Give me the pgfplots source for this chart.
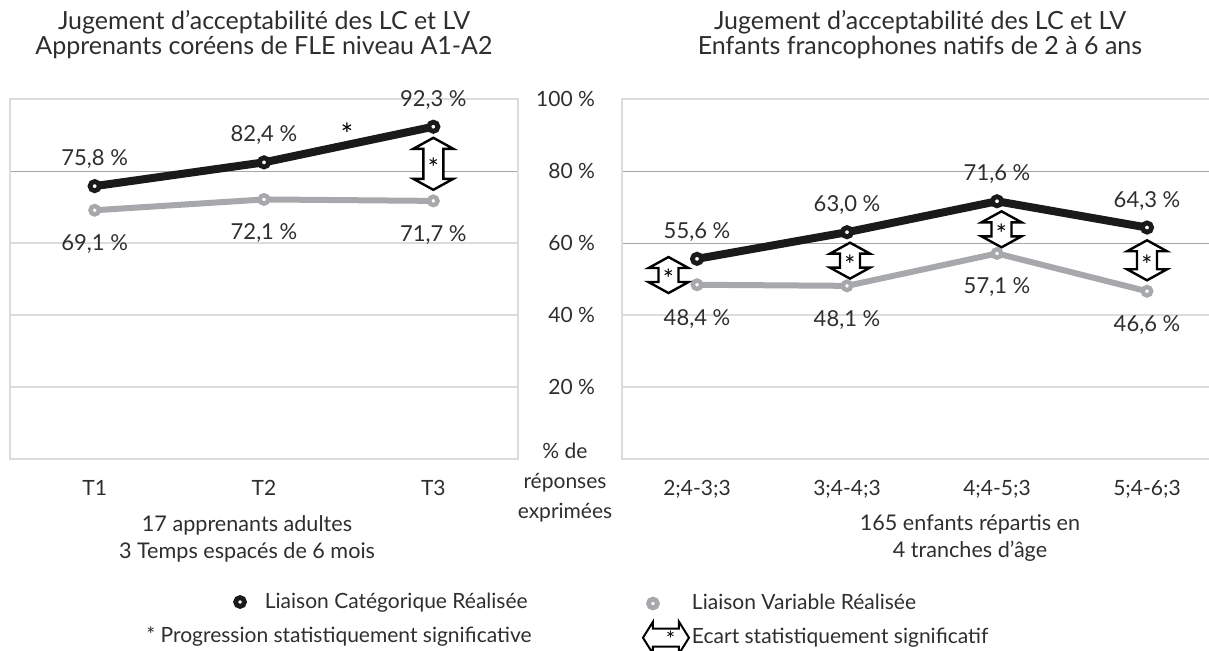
\documentclass[border=0pt]{standalone}
\usepackage{fontspec}
\setmainfont{Lato}
\usepackage{pgfplots}
\pgfplotsset{compat=1.18}

\definecolor{lcblack}{HTML}{1A1A1A}
\definecolor{lvgray}{HTML}{A6A8AB}
\definecolor{txt}{HTML}{2E2E2E}
\definecolor{gridlight}{HTML}{DCDCDC}
\definecolor{griddark}{HTML}{A6A6A6}

\newcommand{\fs}{\fontsize{10.5}{12.5}\selectfont}
\newcommand{\fl}{\fontsize{11}{12.5}\selectfont}

% significance double arrow: x, y (axis), half-length (pt)
\newcommand{\sigarrow}[3]{%
  \draw[line width=1.2pt, draw=black, fill=white, line join=miter]
    ([yshift=#3pt]axis cs:#1,#2) -- ++(10pt,-5.5pt) -- ++(-5pt,0pt)
    -- ++(0pt,{-2*#3pt+11pt}) -- ++(5pt,0pt) -- ++(-10pt,-5.5pt)
    -- ++(-10pt,5.5pt) -- ++(5pt,0pt) -- ++(0pt,{2*#3pt-11pt})
    -- ++(-5pt,0pt) -- cycle;
  \node[font=\fontsize{13}{13}\selectfont, inner sep=0pt, text=black] at ([yshift=-2pt]axis cs:#1,#2) {*};}

\pgfplotsset{
  panel/.style={
    scale only axis, height=180pt, ymin=0, ymax=100,
    axis line style={draw=gridlight, line width=1.2pt},
    major tick length=0pt,
    ymajorgrids,
    grid style={draw=griddark, line width=0.5pt},
    extra y tick style={grid style={draw=gridlight, line width=1.1pt}},
    tick label style={font=\fs, text=txt},
    xticklabel style={yshift=-7pt},
    yticklabel style={xshift=-10pt},
    clip=false,
    /pgf/number format/assume math mode=true,
    legend cell align=left,
    legend style={draw=none, fill=none, inner sep=0pt, outer sep=0pt,
      font=\fs, text=txt, nodes={inner sep=1pt}},
  },
  lcplot/.style={lcblack, line width=4pt, mark=*, mark size=2.3pt,
    mark options={fill=white, draw=lcblack, line width=2.4pt, solid},
    nodes near coords={\pgfmathprintnumber[use comma,fixed,fixed zerofill,precision=1,assume math mode=true]{\pgfplotspointmeta}~\%},
    every node near coord/.append style={anchor=south, yshift=4.2pt, font=\fl, text=txt},
    legend image code/.code={\draw[lcblack, line width=2.4pt, fill=white] (0pt,0pt) circle (2.2pt);}},
  lvplot/.style={lvgray, line width=3pt, mark=*, mark size=2.1pt,
    mark options={fill=white, draw=lvgray, line width=2.2pt, solid},
    nodes near coords={\pgfmathprintnumber[use comma,fixed,fixed zerofill,precision=1,assume math mode=true]{\pgfplotspointmeta}~\%},
    every node near coord/.append style={anchor=north, yshift=-7.8pt, font=\fl, text=txt},
    legend image code/.code={\draw[lvgray, line width=2.4pt, fill=white] (0pt,0pt) circle (2.2pt);}},
}

\begin{document}
\begin{tikzpicture}
\clip (0pt,0pt) rectangle (604.5pt,325pt);

% ---------- left panel ----------
\begin{axis}[panel, at={(5pt,95.5pt)}, anchor=south west, width=254pt,
  xmin=-0.5, xmax=2.5, xtick={0,1,2}, xticklabels={T1,T2,T3},
  ytick={80}, yticklabels={\empty},
  extra y ticks={20,40,60}, extra y tick labels={\empty,\empty,\empty},
  legend style={at={(0.4395,-0.3972)}, anchor=west,
    /tikz/every odd column/.append style={column sep=8pt}},
]
\addplot[lvplot, forget plot] coordinates {(0,69.1) (1,72.1) (2,71.7)};
\addplot[lcplot] coordinates {(0,75.8) (1,82.4) (2,92.3)};
\addlegendentry{Liaison Catégorique Réalisée}
\sigarrow{2}{82}{13}
\node[font=\fontsize{15}{15}\selectfont, text=black, inner sep=0pt] at (axis cs:1.49,90.3) {*};
\end{axis}

% ---------- right panel ----------
\begin{axis}[panel, at={(311pt,95.5pt)}, anchor=south west, width=300pt,
  xmin=-0.5, xmax=3.5, xtick={0,1,2,3},
  xticklabels={2;4-3;3, 3;4-4;3, 4;4-5;3, 5;4-6;3},
  ytick={60,80,100}, yticklabels={60~\%,80~\%,100~\%},
  extra y ticks={20,40}, extra y tick labels={20~\%,40~\%},
  legend style={at={(0.0333,-0.4569)}, anchor=west,
    /tikz/every odd column/.append style={column sep=0pt},
    row sep=3pt},
]
\addplot[lcplot, forget plot] coordinates {(0,55.6) (1,63.0) (2,71.6) (3,64.3)};
\addplot[lvplot] coordinates {(0,48.4) (1,48.1) (2,57.1) (3,46.6)};
\addlegendentry{Liaison Variable Réalisée}
\addlegendimage{legend image code/.code={%
  \draw[line width=1pt, draw=black, fill=white, line join=miter] (-5pt,0pt) -- ++(5pt,8pt) -- ++(0pt,-3.5pt) -- ++(13pt,0pt) -- ++(0pt,3.5pt) -- ++(5pt,-8pt) -- ++(-5pt,-8pt) -- ++(0pt,3.5pt) -- ++(-13pt,0pt) -- ++(0pt,-3.5pt) -- cycle;
  \node[inner sep=0pt, font=\fontsize{11}{11}\selectfont, text=black] at (6.5pt,-1.6pt) {*};}}
\addlegendentry{Ecart statistiquement significatif}
\sigarrow{-0.19}{51.1}{9}
\sigarrow{1.02}{55.1}{9}
\sigarrow{2.03}{63.8}{9}
\sigarrow{3.0}{55.2}{10}
\end{axis}

% ---------- texts ----------
\node[align=center, font=\fontsize{12.5}{12.5}\selectfont, text=txt] at (132pt,307.75pt)
  {Jugement d’acceptabilité des LC et LV\\Apprenants coréens de FLE niveau A1-A2};
\node[align=center, font=\fontsize{12.5}{12.5}\selectfont, text=txt] at (460pt,307.75pt)
  {Jugement d’acceptabilité des LC et LV\\Enfants francophones natifs de 2 à 6 ans};
\node[align=center, font=\fontsize{10.8}{13.5}\selectfont, text=txt] at (123.5pt,55.75pt)
  {17 apprenants adultes\\3 Temps espacés de 6 mois};
\node[align=center, font=\fontsize{10.8}{13.5}\selectfont, text=txt] at (485pt,55.75pt)
  {165 enfants répartis en\\4 tranches d’âge};
\node[align=center, font=\fontsize{10.5}{15}\selectfont, text=txt] at (282.5pt,83.5pt)
  {\% de\\réponses\\exprimées};
\node[anchor=east, inner sep=0pt, font=\fs, text=txt] at (266pt,6.5pt)
  {* Progression statistiquement significative};
\end{tikzpicture}
\end{document}
